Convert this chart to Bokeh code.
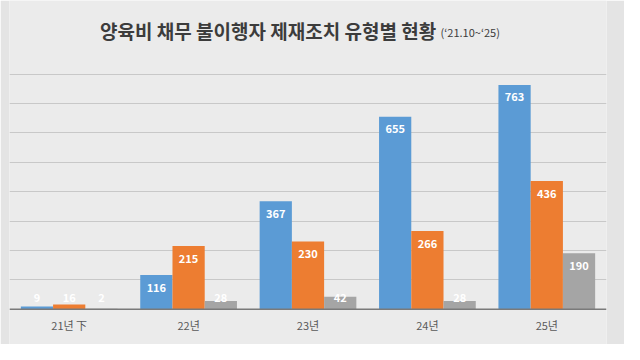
from bokeh.plotting import figure
from bokeh.models import ColumnDataSource, Label, FactorRange, Range1d, Span
from bokeh.transform import dodge
from bokeh.core.properties import value
from bokeh.embed import file_html
from bokeh.resources import INLINE
import numpy as np

categories = ["21년 下", "22년", "23년", "24년", "25년"]
series_a = [9, 116, 367, 655, 763]
series_b = [16, 215, 230, 266, 436]
series_c = [2, 28, 42, 28, 190]
grid_ticks = [100, 200, 300, 400, 500, 600, 700, 800]

colors = ["#5B9BD5", "#ED7D31", "#A5A5A5"]
FONT = "Noto Sans CJK KR"

p = figure(width=624, height=344, output_backend="svg", toolbar_location=None,
           x_range=FactorRange(*categories, range_padding=0), y_range=Range1d(-120, 1050))
p.min_border_left = 9
p.min_border_right = 18
p.min_border_top = 0
p.min_border_bottom = 0
p.background_fill_color = "#ebebeb"
p.border_fill_color = "#e4e4e4"
p.outline_line_color = None
p.axis.visible = False
p.xgrid.grid_line_color = None
p.ygrid.grid_line_color = "#c8c8c8"
p.ygrid.grid_line_width = 1
p.ygrid.ticker = grid_ticks

p.add_layout(Span(location=0, dimension="width", line_color="#7a7a7a", line_width=1.5))

def lab_y(vals):
    return np.maximum(np.array(vals) - 41, 39)

src = ColumnDataSource(dict(cat=categories, a=series_a, b=series_b, c=series_c,
                            la=[str(v) for v in series_a], lb=[str(v) for v in series_b],
                            lc=[str(v) for v in series_c],
                            ya=lab_y(series_a), yb=lab_y(series_b), yc=lab_y(series_c),
                            ycat=[-55] * len(categories)))

w = 0.27
for key, off, col in [("a", -w, colors[0]), ("b", 0, colors[1]), ("c", w, colors[2])]:
    p.vbar(x=dodge("cat", off, range=p.x_range), top=key, width=w, source=src,
           fill_color=col, line_color=None)
    p.text(x=dodge("cat", off, range=p.x_range), y="y" + key, text="l" + key, source=src,
           text_color="white", text_font=value(FONT), text_font_style="bold",
           text_font_size="11px", text_align="center", text_baseline="middle")

p.text(x="cat", y="ycat", text="cat", source=src, text_color="#595959",
       text_font=value(FONT), text_font_size="11px", text_align="center",
       text_baseline="middle")

t1 = Label(x=0.758, y=949, text="양육비 채무 불이행자 제재조치 유형별 현황",
           text_font=FONT, text_font_style="bold", text_font_size="19px",
           text_color="#3c3c3c", text_align="left", text_baseline="middle")
t2 = Label(x=3.61, y=949, text="(‘21.10~‘25)", text_font=FONT,
           text_font_size="11px", text_color="#3c3c3c", text_align="left",
           text_baseline="middle", y_offset=-2)
p.add_layout(t1)
p.add_layout(t2)

open("out.html", "w").write(file_html(p, INLINE))
